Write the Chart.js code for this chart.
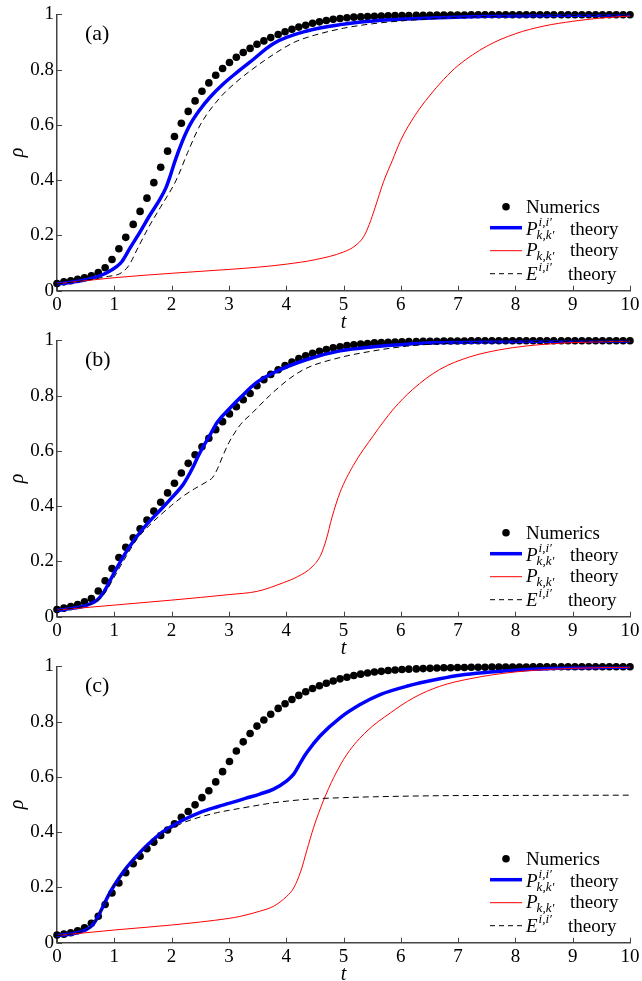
<!DOCTYPE html>
<html>
<head>
<meta charset="utf-8">
<script src="https://cdn.jsdelivr.net/npm/chart.js@4/dist/chart.umd.min.js"></script>
<style>
html, body { margin:0; padding:0; background:#fff; overflow:hidden; width:642px; height:981px; }
canvas { position:absolute; left:0; }
</style>
</head>
<body>
<canvas id="pa" width="642" height="340" style="top:0px"></canvas>
<canvas id="pb" width="642" height="340" style="top:326px"></canvas>
<canvas id="pc" width="642" height="340" style="top:651.7px"></canvas>
<script>
// tick labels
const X_TICK_LABELS = ['0','1','2','3','4','5','6','7','8','9','10'];
const Y_TICK_LABELS = ['0','0.2','0.4','0.6','0.8','1'];

// sample times of the numerics (dots)
const T_NUM = [0,0.12,0.24,0.36,0.48,0.60,0.72,0.84,0.96,1.08,1.20,1.33,1.45,1.57,1.69,1.81,1.93,2.05,2.17,2.29,
  2.41,2.53,2.65,2.77,2.89,3.01,3.13,3.25,3.37,3.49,3.61,3.73,3.86,3.98,4.10,4.22,4.34,4.46,4.58,4.70,
  4.82,4.94,5.06,5.18,5.30,5.42,5.54,5.66,5.78,5.90,6.02,6.14,6.27,6.39,6.51,6.63,6.75,6.87,6.99,7.11,
  7.23,7.35,7.47,7.59,7.71,7.83,7.95,8.07,8.19,8.31,8.43,8.55,8.67,8.80,8.92,9.04,9.16,9.28,9.40,9.52,
  9.64,9.76,9.88,10];

// panel (a)
const A_NUM = [0.026,0.032,0.036,0.041,0.047,0.054,0.066,0.083,0.113,0.152,0.193,0.240,0.287,0.335,0.391,0.447,0.505,0.558,0.606,0.649,
  0.687,0.722,0.752,0.780,0.804,0.826,0.845,0.862,0.877,0.892,0.904,0.916,0.927,0.937,0.946,0.954,0.961,0.968,0.973,0.978,
  0.982,0.985,0.988,0.990,0.991,0.992,0.993,0.994,0.995,0.996,0.996,0.996,0.997,0.997,0.997,0.998,0.998,0.998,0.998,0.998,
  0.999,0.999,0.999,0.999,0.999,0.999,0.999,0.999,0.999,0.999,0.999,0.999,0.999,0.999,0.999,0.999,0.999,0.999,0.999,0.999,
  0.999,0.999,0.999,0.999];
const A_BLUE_T = [0,0.23,0.46,0.69,0.87,1.04,1.13,1.27,1.45,1.62,1.80,1.90,1.98,2.06,2.18,2.32,2.50,2.67,2.90,3.14,3.36,3.78,4.36,4.94,5.52,6.10,6.68,7.5,8.5,10];
const A_BLUE = [0.024,0.030,0.038,0.050,0.065,0.087,0.105,0.153,0.213,0.273,0.332,0.372,0.418,0.470,0.537,0.600,0.657,0.700,0.748,0.790,0.826,0.895,0.940,0.963,0.976,0.983,0.988,0.993,0.996,0.998];
const A_RED_T = [0,1,2,3,3.5,4,4.5,5,5.2,5.35,5.45,5.55,5.7,5.85,6,6.25,6.5,6.75,7,7.5,8,8.5,9,9.5,10];
const A_RED = [0.025,0.047,0.063,0.077,0.085,0.096,0.112,0.140,0.162,0.195,0.240,0.300,0.395,0.470,0.545,0.635,0.705,0.765,0.815,0.885,0.930,0.958,0.975,0.987,0.994];
const A_DASH_T = [0,0.5,0.9,1.1,1.25,1.4,1.6,1.8,2.08,2.28,2.5,2.85,3.1,3.4,3.8,4.15,4.5,5.0,5.5,6.1,6.7,7.5,8.5,10];
const A_DASH = [0.024,0.038,0.052,0.062,0.090,0.150,0.230,0.300,0.400,0.500,0.600,0.700,0.750,0.800,0.858,0.900,0.925,0.950,0.966,0.978,0.986,0.992,0.995,0.997];

// panel (b)
const B_NUM = [0.026,0.031,0.037,0.044,0.054,0.066,0.093,0.130,0.174,0.214,0.251,0.286,0.318,0.350,0.382,0.414,0.448,0.483,0.520,0.555,
  0.586,0.615,0.646,0.677,0.706,0.734,0.760,0.785,0.808,0.836,0.858,0.877,0.894,0.909,0.922,0.934,0.944,0.953,0.961,0.967,
  0.973,0.977,0.981,0.984,0.987,0.989,0.991,0.992,0.993,0.994,0.995,0.996,0.996,0.997,0.997,0.997,0.998,0.998,0.998,0.998,
  0.999,0.999,0.999,0.999,0.999,0.999,0.999,0.999,0.999,0.999,0.999,0.999,0.999,0.999,0.999,0.999,0.999,0.999,0.999,0.999,
  0.999,0.999,0.999,0.999];
const B_BLUE_T = [0,0.3,0.5,0.7,0.8,0.9,1.0,1.2,1.4,1.6,1.8,2.0,2.2,2.28,2.37,2.45,2.55,2.65,2.8,3.0,3.2,3.48,3.78,4.36,4.94,5.52,6.10,6.68,7.5,8.5,10];
const B_BLUE = [0.023,0.031,0.040,0.060,0.084,0.120,0.160,0.232,0.292,0.342,0.385,0.430,0.478,0.505,0.540,0.575,0.615,0.650,0.705,0.751,0.793,0.847,0.883,0.931,0.962,0.977,0.986,0.992,0.995,0.997,0.998];
const B_RED_T = [0,1,2,3,3.5,3.95,4.2,4.45,4.6,4.7,4.8,4.94,5.17,5.52,5.87,6.21,6.68,7.2,7.7,8.2,9,10];
const B_RED = [0.024,0.042,0.060,0.080,0.092,0.123,0.145,0.180,0.222,0.280,0.360,0.450,0.547,0.655,0.751,0.823,0.895,0.940,0.965,0.980,0.992,0.997];
const B_DASH_T = [0,0.5,0.7,0.85,1.0,1.2,1.4,1.6,1.8,2.0,2.2,2.4,2.6,2.72,2.8,2.9,3.0,3.1,3.2,3.42,3.71,4.06,4.36,4.94,5.52,6.10,6.68,7.5,8.5,10];
const B_DASH = [0.023,0.040,0.058,0.090,0.144,0.216,0.282,0.328,0.367,0.403,0.436,0.463,0.487,0.505,0.535,0.585,0.630,0.665,0.695,0.740,0.800,0.862,0.900,0.938,0.962,0.979,0.988,0.993,0.996,0.998];

// panel (c)
const C_NUM = [0.028,0.031,0.036,0.043,0.054,0.070,0.096,0.138,0.180,0.216,0.253,0.286,0.313,0.340,0.364,0.388,0.408,0.430,0.454,0.475,
  0.499,0.525,0.550,0.582,0.619,0.656,0.694,0.727,0.757,0.784,0.806,0.827,0.848,0.865,0.880,0.895,0.908,0.920,0.930,0.939,
  0.947,0.955,0.961,0.967,0.972,0.976,0.980,0.982,0.985,0.987,0.989,0.990,0.991,0.992,0.993,0.994,0.995,0.995,0.996,0.996,
  0.997,0.997,0.997,0.998,0.998,0.998,0.998,0.998,0.998,0.999,0.999,0.999,0.999,0.999,0.999,0.999,0.999,0.999,0.999,0.999,
  0.999,0.999,0.999,0.999];
const C_BLUE_T = [0,0.3,0.5,0.6,0.7,0.8,0.9,1.0,1.2,1.4,1.6,1.8,2.0,2.2,2.5,2.8,3.0,3.3,3.54,3.78,4.01,4.13,4.25,4.36,4.59,4.94,5.29,5.64,6.1,6.68,7.03,8,9,10];
const C_BLUE = [0.026,0.033,0.046,0.060,0.088,0.130,0.172,0.208,0.268,0.316,0.358,0.394,0.421,0.444,0.472,0.492,0.504,0.523,0.538,0.556,0.586,0.610,0.652,0.688,0.748,0.814,0.862,0.898,0.928,0.955,0.968,0.986,0.995,0.998];
const C_RED_T = [0,1,2,3,3.19,3.54,3.78,4.01,4.13,4.25,4.36,4.48,4.65,4.83,5.06,5.41,5.82,6.22,6.68,7.2,8,9,10];
const C_RED = [0.026,0.046,0.064,0.088,0.095,0.114,0.132,0.168,0.198,0.256,0.334,0.418,0.514,0.598,0.682,0.766,0.832,0.886,0.928,0.955,0.980,0.993,0.997];
const C_DASH_T = [0,0.3,0.5,0.6,0.7,0.8,0.9,1.0,1.2,1.4,1.6,1.8,2.0,2.2,2.5,2.8,3.0,3.3,3.8,4.36,5.0,5.52,6.68,8,10];
const C_DASH = [0.026,0.033,0.046,0.060,0.088,0.130,0.172,0.208,0.268,0.316,0.356,0.390,0.414,0.434,0.455,0.471,0.479,0.490,0.507,0.519,0.525,0.528,0.532,0.533,0.534];

const SERIF = '"Liberation Serif", "Times New Roman", serif';
const AXIS = '#444';
Chart.defaults.font.family = SERIF;
Chart.defaults.color = '#000';

function pts(xs, ys) { return xs.map((x, i) => ({ x, y: ys[i] })); }

// inward tick marks, matlab style
const innerTicks = {
  id: 'innerTicks',
  beforeDatasetsDraw(chart) {
    const { ctx, chartArea: a, scales } = chart;
    ctx.save();
    ctx.strokeStyle = AXIS; ctx.lineWidth = 1;
    ctx.beginPath();
    scales.x.ticks.forEach(t => { const p = Math.round(scales.x.getPixelForValue(t.value)) + 0.5; ctx.moveTo(p, a.bottom); ctx.lineTo(p, a.bottom - 5); });
    scales.y.ticks.forEach(t => { const p = Math.round(scales.y.getPixelForValue(t.value)) + 0.5; ctx.moveTo(a.left, p); ctx.lineTo(a.left + 5, p); });
    ctx.stroke();
    ctx.restore();
  }
};

function mathText(ctx, x, base, main, sup, sub) {
  ctx.font = 'italic 19px ' + SERIF;
  ctx.fillText(main, x, base);
  const w = ctx.measureText(main).width + 1;
  ctx.font = 'italic 13px ' + SERIF;
  if (sup) ctx.fillText(sup, x + w, base - 9);
  if (sub) ctx.fillText(sub, x + w - 2, base + 4);
}

function decor(label) {
  return {
    id: 'decor',
    afterDatasetsDraw(chart) {
      const { ctx, chartArea: a } = chart;
      const y0 = a.bottom;
      ctx.save();
      ctx.fillStyle = '#000';
      ctx.textBaseline = 'middle';
      ctx.font = '22px ' + SERIF;
      ctx.fillText(label, a.left + 28, a.top + 20);

      // legend
      const xs = 490, xe = 522, xt = 526, xth = 570;
      ctx.textBaseline = 'alphabetic';
      ctx.beginPath(); ctx.arc(506, y0 - 84, 3.8, 0, Math.PI * 2); ctx.fill();
      ctx.font = '19px ' + SERIF;
      ctx.fillText('Numerics', xt, y0 - 78);

      ctx.lineWidth = 3.5; ctx.strokeStyle = '#0000ff';
      ctx.beginPath(); ctx.moveTo(xs, y0 - 63); ctx.lineTo(xe, y0 - 63); ctx.stroke();
      mathText(ctx, xt, y0 - 56, 'P', 'i,i\u2032', 'k,k\u2032');
      ctx.font = '19px ' + SERIF; ctx.fillText('theory', xth, y0 - 56);

      ctx.lineWidth = 1; ctx.strokeStyle = '#ff0000';
      ctx.beginPath(); ctx.moveTo(xs, y0 - 40); ctx.lineTo(xe, y0 - 40); ctx.stroke();
      mathText(ctx, xt, y0 - 35, 'P', null, 'k,k\u2032');
      ctx.font = '19px ' + SERIF; ctx.fillText('theory', xth, y0 - 35);

      ctx.strokeStyle = '#000'; ctx.setLineDash([5, 4]);
      ctx.beginPath(); ctx.moveTo(xs, y0 - 17); ctx.lineTo(xe, y0 - 17); ctx.stroke();
      ctx.setLineDash([]);
      mathText(ctx, xt, y0 - 11, 'E', 'i,i\u2032', null);
      ctx.font = '19px ' + SERIF; ctx.fillText('theory', xth - 2, y0 - 11);
      ctx.restore();
    }
  };
}

function panel(id, label, num, blueT, blue, redT, red, dashT, dash) {
  const ctx = document.getElementById(id).getContext('2d');
  return new Chart(ctx, {
    type: 'scatter',
    data: {
      datasets: [
        { label: 'E theory', data: pts(dashT, dash), showLine: true, borderColor: '#000', borderWidth: 1, borderDash: [6, 4], pointRadius: 0, cubicInterpolationMode: 'monotone', order: 1 },
        { label: 'Pkk theory', data: pts(redT, red), showLine: true, borderColor: '#ff0000', borderWidth: 1, pointRadius: 0, cubicInterpolationMode: 'monotone', order: 2 },
        { label: 'Pii theory', data: pts(blueT, blue), showLine: true, borderColor: '#0000ff', borderWidth: 3.5, pointRadius: 0, cubicInterpolationMode: 'monotone', order: 3 },
        { label: 'Numerics', data: pts(T_NUM, num), showLine: false, pointRadius: 3.8, pointBackgroundColor: '#000', pointBorderWidth: 0, clip: false, order: 4 }
      ]
    },
    options: {
      responsive: false, animation: false, events: [],
      layout: { padding: { left: 0, right: 11, top: 13.3, bottom: 5.3 } },
      plugins: { legend: { display: false }, tooltip: { enabled: false } },
      scales: {
        x: {
          type: 'linear', min: 0, max: 10,
          grid: { display: false, drawTicks: false },
          border: { display: true, color: AXIS, width: 1.5 },
          ticks: { stepSize: 1, padding: 2.5, font: { size: 19 }, color: '#000', callback: (v, i) => X_TICK_LABELS[i] },
          title: { display: true, text: 't', font: { size: 20, style: 'italic' }, padding: { top: 0, bottom: 0 }, color: '#000' },
          afterFit: s => { s.height = 44; }
        },
        y: {
          type: 'linear', min: 0, max: 1,
          grid: { display: false, drawTicks: false },
          border: { display: true, color: AXIS, width: 1.5 },
          ticks: { stepSize: 0.2, padding: 3, font: { size: 19 }, color: '#000', callback: (v, i) => Y_TICK_LABELS[i] },
          title: { display: true, text: '\u03c1', font: { size: 20, style: 'italic' }, padding: { top: 6, bottom: 0 }, color: '#000' },
          afterFit: s => { s.width = 57; }
        }
      }
    },
    plugins: [innerTicks, decor(label)]
  });
}

panel('pa', '(a)', A_NUM, A_BLUE_T, A_BLUE, A_RED_T, A_RED, A_DASH_T, A_DASH);
panel('pb', '(b)', B_NUM, B_BLUE_T, B_BLUE, B_RED_T, B_RED, B_DASH_T, B_DASH);
panel('pc', '(c)', C_NUM, C_BLUE_T, C_BLUE, C_RED_T, C_RED, C_DASH_T, C_DASH);
</script>
</body>
</html>
